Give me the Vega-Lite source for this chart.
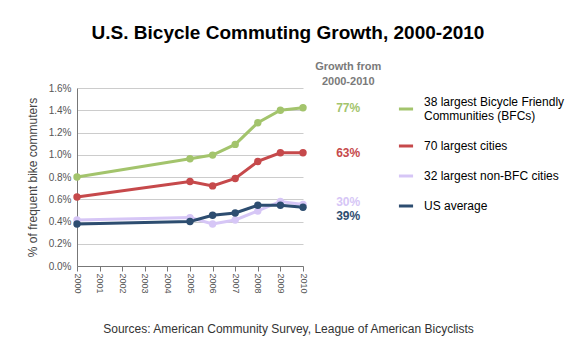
{
  "$schema": "https://vega.github.io/schema/vega-lite/v6.json",
  "width": 226,
  "height": 178,
  "autosize": {"type": "none"},
  "padding": {"left": 77, "top": 88, "right": 273, "bottom": 94},
  "background": "white",
  "config": {
    "font": "Liberation Sans",
    "view": {"stroke": null}
  },
  "title": {
    "text": "U.S. Bicycle Commuting Growth, 2000-2010",
    "fontSize": 19,
    "fontWeight": "bold",
    "color": "#000000",
    "anchor": "middle",
    "frame": "group",
    "dx": 98,
    "offset": 18
  },
  "datasets": {
    "series": [
      {"year": 2000, "series": "38 largest Bicycle Friendly|Communities (BFCs)", "value": 0.80},
      {"year": 2005, "series": "38 largest Bicycle Friendly|Communities (BFCs)", "value": 0.964},
      {"year": 2006, "series": "38 largest Bicycle Friendly|Communities (BFCs)", "value": 0.997},
      {"year": 2007, "series": "38 largest Bicycle Friendly|Communities (BFCs)", "value": 1.093},
      {"year": 2008, "series": "38 largest Bicycle Friendly|Communities (BFCs)", "value": 1.288},
      {"year": 2009, "series": "38 largest Bicycle Friendly|Communities (BFCs)", "value": 1.40},
      {"year": 2010, "series": "38 largest Bicycle Friendly|Communities (BFCs)", "value": 1.423},
      {"year": 2000, "series": "70 largest cities", "value": 0.62},
      {"year": 2005, "series": "70 largest cities", "value": 0.76},
      {"year": 2006, "series": "70 largest cities", "value": 0.72},
      {"year": 2007, "series": "70 largest cities", "value": 0.787},
      {"year": 2008, "series": "70 largest cities", "value": 0.94},
      {"year": 2009, "series": "70 largest cities", "value": 1.018},
      {"year": 2010, "series": "70 largest cities", "value": 1.018},
      {"year": 2000, "series": "32 largest non-BFC cities", "value": 0.414},
      {"year": 2005, "series": "32 largest non-BFC cities", "value": 0.435},
      {"year": 2006, "series": "32 largest non-BFC cities", "value": 0.378},
      {"year": 2007, "series": "32 largest non-BFC cities", "value": 0.414},
      {"year": 2008, "series": "32 largest non-BFC cities", "value": 0.495},
      {"year": 2009, "series": "32 largest non-BFC cities", "value": 0.58},
      {"year": 2010, "series": "32 largest non-BFC cities", "value": 0.553},
      {"year": 2000, "series": "US average", "value": 0.378},
      {"year": 2005, "series": "US average", "value": 0.40},
      {"year": 2006, "series": "US average", "value": 0.456},
      {"year": 2007, "series": "US average", "value": 0.477},
      {"year": 2008, "series": "US average", "value": 0.546},
      {"year": 2009, "series": "US average", "value": 0.546},
      {"year": 2010, "series": "US average", "value": 0.528}
    ],
    "growth": [
      {"series": "38 largest Bicycle Friendly|Communities (BFCs)", "growth": "77%", "year": 2012.0, "value": 1.42},
      {"series": "70 largest cities", "growth": "63%", "year": 2012.0, "value": 1.016},
      {"series": "32 largest non-BFC cities", "growth": "30%", "year": 2012.0, "value": 0.575},
      {"series": "US average", "growth": "39%", "year": 2012.0, "value": 0.45}
    ],
    "header": [
      {"label": "Growth from", "year": 2012.0, "value": 1.785},
      {"label": "2000-2010", "year": 2012.0, "value": 1.65}
    ]
  },
  "layer": [
    {
      "data": {"name": "series"},
      "mark": {"type": "line", "strokeWidth": 3, "point": {"filled": true, "size": 55}},
      "encoding": {
        "x": {
          "field": "year", "type": "quantitative",
          "scale": {"domain": [2000, 2010], "nice": false, "zero": false},
          "axis": {
            "values": [2000, 2001, 2002, 2003, 2004, 2005, 2006, 2007, 2008, 2009, 2010],
            "tickCount": 50,
            "format": "d",
            "labelOverlap": false,
            "labelAngle": 90,
            "labelAlign": "left",
            "labelBaseline": "middle",
            "labelFontSize": 9,
            "labelColor": "#555555",
            "labelPadding": 2,
            "grid": false,
            "domainColor": "#777777",
            "tickColor": "#777777",
            "tickSize": 5,
            "title": "Sources: American Community Survey, League of American Bicyclists",
            "titleFontSize": 12,
            "titleFontWeight": "normal",
            "titleColor": "#333333",
            "titleX": 211,
            "titleY": 62,
            "titleAlign": "center",
            "titleBaseline": "middle"
          }
        },
        "y": {
          "field": "value", "type": "quantitative",
          "scale": {"domain": [0, 1.6], "nice": false},
          "axis": {
            "values": [0, 0.2, 0.4, 0.6, 0.8, 1.0, 1.2, 1.4, 1.6],
            "tickCount": 50,
            "labelOverlap": false,
            "labelExpr": "format(datum.value/100, '.1%')",
            "labelFontSize": 10,
            "labelColor": "#555555",
            "labelPadding": 6,
            "ticks": false,
            "domainColor": "#777777",
            "gridColor": "#cccccc",
            "title": "% of frequent bike commuters",
            "titleFontSize": 12,
            "titleFontWeight": "normal",
            "titleColor": "#444444",
            "titleX": -45,
            "titleY": 89,
            "titleAngle": -90,
            "titleAlign": "center",
            "titleBaseline": "middle"
          }
        },
        "color": {
          "field": "series", "type": "nominal",
          "scale": {
            "domain": ["38 largest Bicycle Friendly|Communities (BFCs)", "70 largest cities", "32 largest non-BFC cities", "US average"],
            "range": ["#a3c46c", "#c6494b", "#d6c6f6", "#2d4d70"]
          },
          "legend": {
            "orient": "none",
            "legendX": 320,
            "legendY": 12,
            "title": null,
            "symbolType": "stroke",
            "symbolStrokeWidth": 3,
            "symbolSize": 200,
            "labelFontSize": 12,
            "labelColor": "#000000",
            "labelOffset": 9,
            "labelLimit": 300,
            "rowPadding": 15,
            "labelExpr": "split(datum.label, '|')",
            "encode": {
              "labels": {
                "update": {
                  "dy": {"signal": "indexof(datum.value, '|') >= 0 ? -7 : 0"}
                }
              }
            }
          }
        }
      }
    },
    {
      "data": {"name": "growth"},
      "mark": {"type": "text", "fontSize": 12, "fontWeight": "bold", "align": "center", "baseline": "middle"},
      "encoding": {
        "x": {"field": "year", "type": "quantitative"},
        "y": {"field": "value", "type": "quantitative"},
        "text": {"field": "growth"},
        "color": {"field": "series", "type": "nominal", "legend": null}
      }
    },
    {
      "data": {"name": "header"},
      "mark": {"type": "text", "fontSize": 11, "fontWeight": "bold", "align": "center", "baseline": "middle", "color": "#7a7a7a"},
      "encoding": {
        "x": {"field": "year", "type": "quantitative"},
        "y": {"field": "value", "type": "quantitative"},
        "text": {"field": "label"}
      }
    }
  ]
}
